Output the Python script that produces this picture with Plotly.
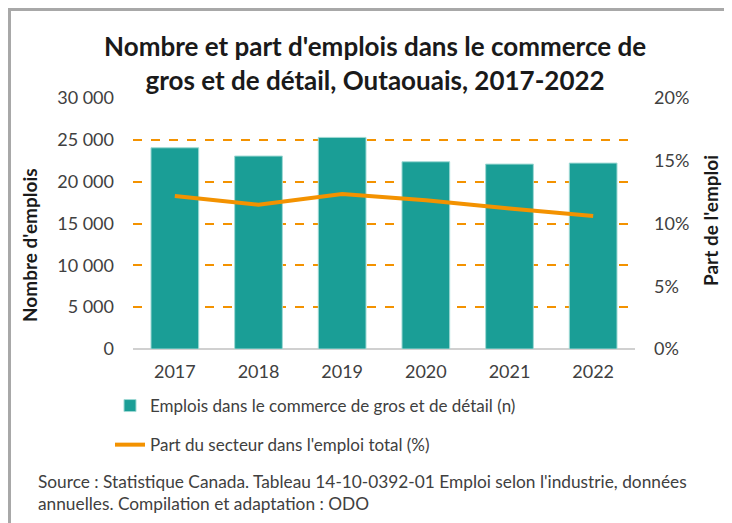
import plotly.graph_objects as go

years = ["2017", "2018", "2019", "2020", "2021", "2022"]
emplois = [24050, 23060, 25290, 22380, 22100, 22220]
part = [12.2, 11.5, 12.35, 11.85, 11.2, 10.6]

title_text = "Nombre et part d'emplois dans le commerce de<br>gros et de détail, Outaouais, 2017-2022"
bar_name = "Emplois dans le commerce de gros et de détail (n)"
line_name = "Part du secteur dans l'emploi total (%)"
source_text = ("Source : Statistique Canada. Tableau 14-10-0392-01 Emploi selon l'industrie, données<br>"
               "annuelles. Compilation et adaptation : ODO")

FONT = "Lato, 'Open Sans', sans-serif"
TEAL = "#1A9E96"
ORANGE = "#F39200"

# figure geometry (page body adds an 8px offset)
W, H = 724, 515
L, R, T, B = 125, 97, 90, 174
PW, PH = W - L - R, H - T - B


def px(x):
    return (x - L) / PW


def py(y):
    return (T + PH - y) / PH


fig = go.Figure()
fig.add_trace(go.Bar(
    x=years, y=emplois, name=bar_name, legendgroup="a",
    marker=dict(color=TEAL, line=dict(color="#9FD9D4", width=1)),
    width=0.57, yaxis="y",
))
fig.add_trace(go.Scatter(
    x=years, y=part, name=line_name, mode="lines", legendgroup="b",
    line=dict(color=ORANGE, width=4), yaxis="y2",
))

fig.update_layout(
    width=W, height=H,
    margin=dict(l=L, r=R, t=T, b=B),
    paper_bgcolor="white", plot_bgcolor="white",
    separators=", ",
    font=dict(family=FONT, size=18, color="#404040"),
    title=dict(text=title_text, x=0.507, xanchor="center", y=1 - 48 / H, yanchor="middle",
               font=dict(family=FONT, size=26, color="#1a1a1a", weight="bold")),
    showlegend=True,
    legend=dict(orientation="v", x=px(102), xanchor="left", y=py(380), yanchor="top",
                font=dict(family=FONT, size=17, color="#404040"),
                tracegroupgap=14, bgcolor="rgba(0,0,0,0)"),
    xaxis=dict(showgrid=False, showline=False, ticks="", ticklabelstandoff=10,
               tickfont=dict(size=18, color="#404040")),
    yaxis=dict(range=[0, 30000], dtick=5000, tickformat=",d", showgrid=True,
               gridcolor=ORANGE, griddash="dash", gridwidth=1.5,
               zeroline=True, zerolinecolor="#D0D0D0", zerolinewidth=1.5,
               ticks="", ticklabelstandoff=18, tickfont=dict(size=18, color="#404040")),
    yaxis2=dict(range=[0, 20], dtick=5, ticksuffix="%", overlaying="y", side="right",
                showgrid=False, zeroline=False, ticks="", ticklabelstandoff=18,
                tickfont=dict(size=18, color="#404040")),
)

fig.add_annotation(text="Nombre d'emplois", textangle=-90, xref="paper", yref="paper",
                   x=px(22), y=py(237), showarrow=False, xanchor="center", yanchor="middle",
                   font=dict(family=FONT, size=19, color="#1a1a1a", weight="bold"))
fig.add_annotation(text="Part de l'emploi", textangle=-90, xref="paper", yref="paper",
                   x=px(702), y=py(213), showarrow=False, xanchor="center", yanchor="middle",
                   font=dict(family=FONT, size=19, color="#1a1a1a", weight="bold"))
fig.add_annotation(text=source_text, xref="paper", yref="paper", x=px(28), y=py(461),
                   xanchor="left", yanchor="top", align="left", showarrow=False,
                   font=dict(family=FONT, size=17.3, color="#404040"))

# outer gray frame
fig.add_shape(type="rect", xref="paper", yref="paper",
              x0=px(1.5), x1=px(760), y0=py(560), y1=py(1.5),
              line=dict(color="#A8A8A8", width=3), fillcolor="rgba(0,0,0,0)", layer="below")

fig.write_html("out.html")
